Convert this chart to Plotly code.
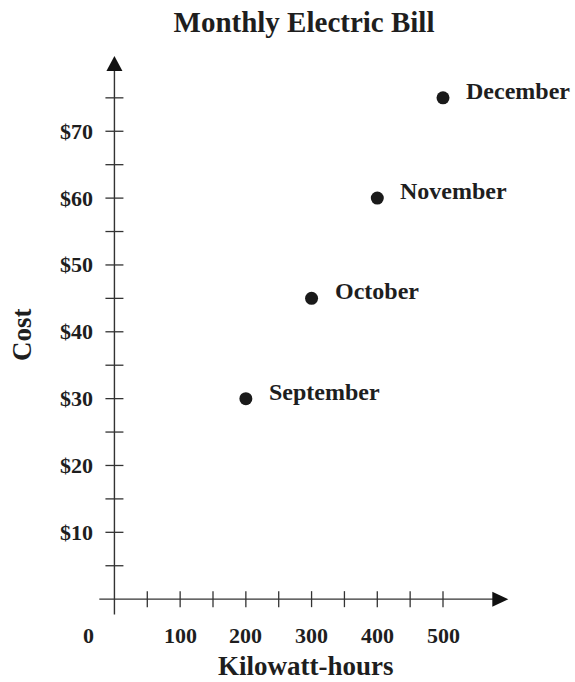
import plotly.graph_objects as go

months = ["September", "October", "November", "December"]
kwh = [200, 300, 400, 500]
cost = [30, 45, 60, 75]

x_tick_vals = [50, 100, 150, 200, 250, 300, 350, 400, 450, 500]
x_label_vals = [100, 200, 300, 400, 500]
x_label_text = ["100", "200", "300", "400", "500"]
y_tick_vals = [5, 10, 15, 20, 25, 30, 35, 40, 45, 50, 55, 60, 65, 70, 75]
y_label_vals = [10, 20, 30, 40, 50, 60, 70]
y_label_text = ["$10", "$20", "$30", "$40", "$50", "$60", "$70"]

FONT = "Liberation Serif"
AX = "#333333"
TXT = "#1e1e1e"

# plot area geometry (pixels)
L, R, T, B = 75, 40, 31, 16
W, H = 575, 682
PW, PH = W - L - R, H - T - B


def px_to_paper(px, py):
    return (px - L) / PW, 1 - (py - T) / PH


fig = go.Figure()

fig.add_trace(go.Scatter(
    x=kwh, y=cost, mode="markers",
    marker=dict(size=13, color="#1a1a1a"),
    hoverinfo="skip", showlegend=False,
))

shapes = []
shapes.append(dict(type="line", xref="x", yref="y", x0=-23, x1=578, y0=0, y1=0,
                   line=dict(color=AX, width=1.4)))
shapes.append(dict(type="line", xref="x", yref="y", x0=0, x1=0, y0=-2.3, y1=79.6,
                   line=dict(color=AX, width=1.4)))
shapes.append(dict(type="path", xref="x", yref="y", xsizemode="pixel", ysizemode="pixel",
                   xanchor=0, yanchor=79, path="M -8 0 L 8 0 L 0 15 Z",
                   fillcolor="#111111", line=dict(width=0)))
shapes.append(dict(type="path", xref="x", yref="y", xsizemode="pixel", ysizemode="pixel",
                   xanchor=575, yanchor=0, path="M 0 -7.5 L 0 7.5 L 16 0 Z",
                   fillcolor="#111111", line=dict(width=0)))
for v in x_tick_vals:
    shapes.append(dict(type="line", xref="x", yref="y", ysizemode="pixel", yanchor=0,
                       x0=v, x1=v, y0=-8, y1=8, line=dict(color=AX, width=1.3)))
for v in y_tick_vals:
    shapes.append(dict(type="line", xref="x", yref="y", xsizemode="pixel", xanchor=0,
                       x0=-9, x1=9, y0=v, y1=v, line=dict(color=AX, width=1.3)))

annotations = []
for v, t in zip(x_label_vals, x_label_text):
    annotations.append(dict(x=v, y=0, xref="x", yref="y", text=t, showarrow=False,
                            yshift=-36, xanchor="center", yanchor="middle",
                            font=dict(family=FONT, size=22, color=TXT)))
annotations.append(dict(x=0, y=0, xref="x", yref="y", text="0", showarrow=False,
                        xshift=-26, yshift=-36, xanchor="center", yanchor="middle",
                        font=dict(family=FONT, size=22, color=TXT)))
for v, t in zip(y_label_vals, y_label_text):
    annotations.append(dict(x=0, y=v, xref="x", yref="y", text=t, showarrow=False,
                            xshift=-19, xanchor="right", yanchor="middle",
                            font=dict(family=FONT, size=22, color=TXT)))
for m, xv, yv in zip(months, kwh, cost):
    annotations.append(dict(x=xv, y=yv, xref="x", yref="y", text=m, showarrow=False,
                            xshift=21, yshift=7, xanchor="left", yanchor="middle",
                            font=dict(family=FONT, size=24, color=TXT)))
kx, ky = px_to_paper(306, 666)
annotations.append(dict(x=kx, y=ky, xref="paper", yref="paper",
                        text="Kilowatt-hours", showarrow=False, xanchor="center",
                        yanchor="middle",
                        font=dict(family=FONT, size=27, color=TXT)))
cx, cy = px_to_paper(22, 335)
annotations.append(dict(x=cx, y=cy, xref="paper", yref="paper",
                        text="Cost", showarrow=False, textangle=-90, xanchor="center",
                        yanchor="middle",
                        font=dict(family=FONT, size=27, color=TXT)))
for a in annotations:
    a["text"] = "<b>" + a["text"] + "</b>"

fig.update_layout(
    width=W, height=H,
    margin=dict(l=L, r=R, t=T, b=B),
    paper_bgcolor="white", plot_bgcolor="white",
    title=dict(text="<b>Monthly Electric Bill</b>", x=304 / W, xanchor="center",
               y=1 - 22 / H, yanchor="middle", yref="container",
               font=dict(family=FONT, size=29, color=TXT)),
    xaxis=dict(range=[-60, 640], visible=False, fixedrange=True),
    yaxis=dict(range=[-10, 85], visible=False, fixedrange=True),
    shapes=shapes, annotations=annotations,
    font=dict(family=FONT, color=TXT),
)

fig.write_html("out.html", config={"displayModeBar": False},
               post_script="document.body.style.margin='0px';")
